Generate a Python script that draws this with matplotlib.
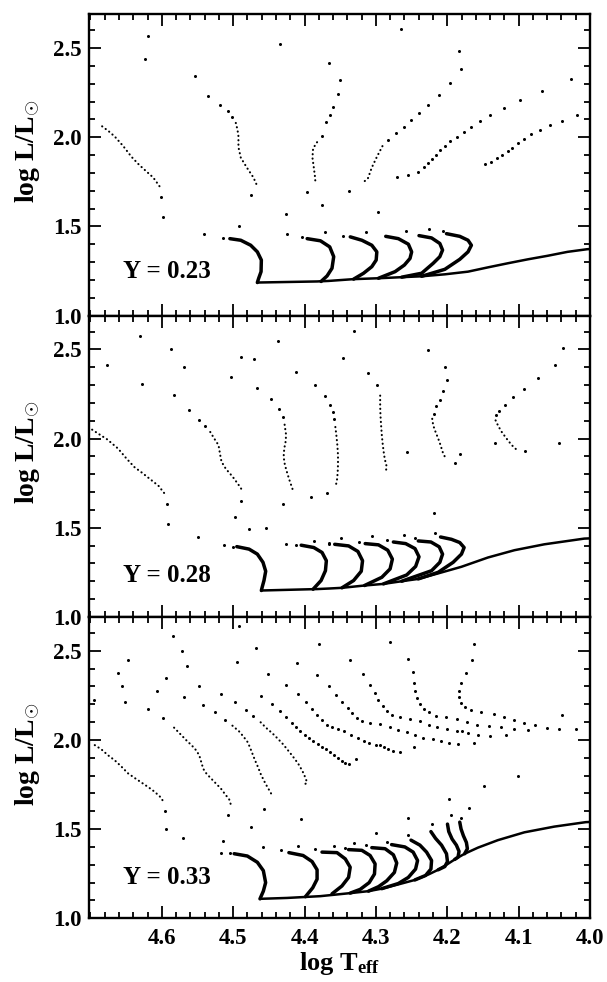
import matplotlib
matplotlib.use('Agg')
import matplotlib.pyplot as plt
from matplotlib.ticker import FixedLocator, MultipleLocator, FormatStrFormatter

plt.rcParams['font.family'] = 'Liberation Serif'
plt.rcParams['font.weight'] = 'bold'
plt.rcParams['mathtext.fontset'] = 'custom'
plt.rcParams['mathtext.rm'] = 'Liberation Serif:bold'
plt.rcParams['mathtext.it'] = 'Liberation Serif:italic:bold'
plt.rcParams['mathtext.bf'] = 'Liberation Serif:bold'

# ---------------- Y = 0.23 ----------------
zams_23 = [(4.4661, 1.185), (4.3824, 1.191), (4.3661, 1.194), (4.3312, 1.204), (4.2964, 1.209),
           (4.2638, 1.215), (4.2359, 1.220), (4.2034, 1.231), (4.1709, 1.246), (4.1430, 1.270),
           (4.1151, 1.293), (4.0872, 1.315), (4.0593, 1.335), (4.0315, 1.357), (4.0036, 1.372),
           (3.99, 1.374)]
hooks_23 = [
    [(4.5046, 1.431), (4.4893, 1.422), (4.4754, 1.394), (4.4661, 1.357), (4.4605, 1.311), (4.4609, 1.246), (4.4642, 1.209), (4.4661, 1.185)],
    [(4.3963, 1.431), (4.3777, 1.419), (4.3647, 1.385), (4.3591, 1.330), (4.3615, 1.265), (4.3684, 1.222), (4.3768, 1.191)],
    [(4.3359, 1.441), (4.3196, 1.422), (4.3057, 1.394), (4.2987, 1.357), (4.2996, 1.311), (4.3057, 1.274), (4.3173, 1.237), (4.3312, 1.204)],
    [(4.2862, 1.444), (4.2685, 1.431), (4.2545, 1.400), (4.2499, 1.357), (4.2522, 1.320), (4.2601, 1.283), (4.2731, 1.246), (4.2964, 1.209)],
    [(4.2396, 1.448), (4.2220, 1.435), (4.2104, 1.404), (4.2066, 1.367), (4.2104, 1.330), (4.2197, 1.293), (4.2359, 1.237), (4.2638, 1.215)],
    [(4.2011, 1.459), (4.1825, 1.444), (4.1709, 1.422), (4.1662, 1.394), (4.1709, 1.357), (4.1825, 1.315), (4.2034, 1.259), (4.2359, 1.220)],
]
dense_23 = [
    [(4.6836, 2.061), (4.6743, 2.033), (4.6660, 2.004), (4.6540, 1.950), (4.6427, 1.891), (4.6320, 1.846), (4.6213, 1.807), (4.6120, 1.774), (4.6027, 1.722)],
    [(4.4963, 2.080), (4.4940, 2.043), (4.4926, 2.006), (4.4926, 1.944), (4.4893, 1.885), (4.4809, 1.830), (4.4716, 1.774), (4.4670, 1.733)],
    [(4.3824, 1.972), (4.3880, 1.937), (4.3889, 1.885), (4.3870, 1.830), (4.3852, 1.774), (4.3847, 1.743)],
    [(4.2908, 1.950), (4.2987, 1.889), (4.3057, 1.830), (4.3112, 1.769), (4.3168, 1.750)],
]
dots_23 = [
    (4.6013, 1.667), (4.5986, 1.550),
    (4.5535, 2.343), (4.5349, 2.230), (4.5191, 2.181), (4.5079, 2.146), (4.5019, 2.111),
    (4.4754, 1.676), (4.4912, 1.502), (4.5414, 1.459), (4.5149, 1.437),
    (4.6195, 2.567), (4.6237, 2.437), (4.4340, 2.524),
    (4.3661, 2.417), (4.3503, 2.322), (4.3526, 2.243), (4.3596, 2.172), (4.3647, 2.122), (4.3703, 2.085), (4.3749, 2.009),
    (4.3963, 1.694), (4.3749, 1.619), (4.4256, 1.567), (4.4251, 1.456), (4.4033, 1.441), (4.3717, 1.470), (4.3373, 1.700), (4.3457, 1.448),
    (4.2648, 2.604), (4.1839, 2.481), (4.2964, 1.580), (4.3140, 1.469), (4.2578, 1.472), (4.2253, 1.487), (4.2057, 1.472),
    (4.1811, 2.381), (4.1964, 2.302), (4.2118, 2.237), (4.2266, 2.181), (4.2396, 2.135), (4.2508, 2.094), (4.2601, 2.057), (4.2722, 2.022), (4.2834, 1.987),
    (4.0267, 2.324), (4.0672, 2.259), (4.0974, 2.209), (4.1206, 2.163), (4.1397, 2.124), (4.1541, 2.089), (4.1662, 2.057), (4.1769, 2.030),
    (4.1857, 2.000), (4.1955, 1.978), (4.2034, 1.950), (4.2104, 1.926), (4.2164, 1.900), (4.2220, 1.880), (4.2276, 1.857), (4.2327, 1.833),
    (4.2406, 1.807), (4.2545, 1.787), (4.2699, 1.774),
    (4.0184, 2.122), (4.0398, 2.093), (4.0560, 2.067), (4.0700, 2.043), (4.0825, 2.019), (4.0927, 1.991), (4.1011, 1.969), (4.1090, 1.941),
    (4.1151, 1.922), (4.1234, 1.900), (4.1308, 1.885), (4.1383, 1.863), (4.1467, 1.852),
]

# ---------------- Y = 0.28 ----------------
zams_28 = [(4.4605, 1.148), (4.3824, 1.156), (4.3661, 1.159), (4.3475, 1.163), (4.3159, 1.176),
           (4.2894, 1.185), (4.2638, 1.200), (4.2406, 1.213), (4.2127, 1.244), (4.1801, 1.281),
           (4.1430, 1.333), (4.1058, 1.374), (4.0640, 1.407), (4.0081, 1.439), (3.99, 1.442)]
hooks_28 = [
    [(4.4949, 1.394), (4.4777, 1.380), (4.4661, 1.352), (4.4582, 1.306), (4.4544, 1.256), (4.4568, 1.204), (4.4591, 1.170), (4.4605, 1.148)],
    [(4.4047, 1.402), (4.3870, 1.389), (4.3754, 1.361), (4.3694, 1.315), (4.3707, 1.259), (4.3768, 1.204), (4.3880, 1.155)],
    [(4.3577, 1.407), (4.3382, 1.398), (4.3252, 1.367), (4.3187, 1.315), (4.3205, 1.256), (4.3312, 1.204), (4.3475, 1.163)],
    [(4.3150, 1.411), (4.2964, 1.404), (4.2834, 1.374), (4.2769, 1.324), (4.2801, 1.269), (4.2917, 1.222), (4.3159, 1.176)],
    [(4.2755, 1.420), (4.2583, 1.411), (4.2452, 1.383), (4.2396, 1.337), (4.2443, 1.283), (4.2569, 1.235), (4.2894, 1.185)],
    [(4.2406, 1.426), (4.2229, 1.420), (4.2113, 1.393), (4.2066, 1.352), (4.2104, 1.306), (4.2220, 1.259), (4.2638, 1.200)],
    [(4.2094, 1.448), (4.1941, 1.435), (4.1825, 1.417), (4.1764, 1.389), (4.1801, 1.352), (4.1918, 1.306), (4.2127, 1.250), (4.2406, 1.213)],
]
dense_28 = [
    [(4.6976, 2.050), (4.6869, 2.022), (4.6767, 1.996), (4.6613, 1.944), (4.6497, 1.889), (4.6381, 1.839), (4.6279, 1.809), (4.6162, 1.772), (4.6046, 1.735), (4.5948, 1.685)],
    [(4.5321, 2.037), (4.5265, 2.000), (4.5205, 1.963), (4.5181, 1.907), (4.5163, 1.870), (4.5102, 1.830), (4.5009, 1.787), (4.4930, 1.744), (4.4856, 1.700)],
    [(4.4279, 2.078), (4.4261, 2.028), (4.4261, 1.991), (4.4284, 1.944), (4.4293, 1.898), (4.4275, 1.852), (4.4242, 1.806), (4.4205, 1.759), (4.4172, 1.722), (4.4159, 1.704)],
    [(4.3568, 2.065), (4.3554, 2.019), (4.3540, 1.963), (4.3531, 1.907), (4.3531, 1.852), (4.3536, 1.806), (4.3545, 1.769), (4.3559, 1.741), (4.3568, 1.726)],
    [(4.2940, 2.241), (4.2940, 2.185), (4.2936, 2.130), (4.2927, 2.074), (4.2917, 2.019), (4.2903, 1.963), (4.2885, 1.907), (4.2862, 1.861), (4.2848, 1.843), (4.2857, 1.824)],
    [(4.2211, 2.111), (4.2197, 2.074), (4.2164, 2.037), (4.2127, 2.000), (4.2094, 1.963), (4.2066, 1.926), (4.2034, 1.898), (4.1997, 1.889)],
    [(4.1323, 2.102), (4.1290, 2.074), (4.1244, 2.041), (4.1197, 2.015), (4.1141, 1.985), (4.1081, 1.957), (4.1011, 1.931)],
]
dots_28 = [
    (4.5925, 1.633), (4.5916, 1.522), (4.5497, 1.448),
    (4.6302, 2.574), (4.6762, 2.413), (4.6274, 2.306), (4.5874, 2.504), (4.5683, 2.404), (4.5823, 2.244), (4.5614, 2.161), (4.5484, 2.106), (4.5395, 2.069),
    (4.4884, 1.652), (4.4977, 1.561), (4.4777, 1.491), (4.4535, 1.500), (4.5126, 1.402), (4.5000, 1.394),
    (4.5033, 2.348), (4.4712, 2.448), (4.4884, 2.456), (4.4670, 2.285), (4.4470, 2.222), (4.4363, 2.167), (4.4303, 2.120), (4.4298, 1.635),
    (4.4368, 2.546), (4.4126, 2.374), (4.3847, 2.302), (4.3707, 2.241), (4.3638, 2.189), (4.3600, 2.148), (4.3582, 2.111), (4.3684, 1.694), (4.3908, 1.672), (4.3457, 2.450),
    (4.3312, 2.602), (4.3117, 2.367), (4.2987, 2.300), (4.2559, 1.926),
    (4.2276, 2.494), (4.2025, 2.402), (4.2006, 2.328), (4.2053, 2.269), (4.2108, 2.219), (4.2159, 2.180), (4.2192, 2.139), (4.1825, 1.911), (4.1890, 1.863),
    (4.0372, 2.506), (4.0491, 2.411), (4.0723, 2.339), (4.0927, 2.278), (4.1081, 2.233), (4.1197, 2.191), (4.1271, 2.157), (4.1313, 2.130),
    (4.0904, 1.933), (4.1337, 1.976), (4.0441, 1.974),
    (4.2183, 1.583), (4.2174, 1.469), (4.3661, 1.411), (4.3489, 1.444), (4.3243, 1.422), (4.3057, 1.452), (4.2838, 1.431), (4.2606, 1.459), (4.2452, 1.441),
    (4.4256, 1.411), (4.4117, 1.404), (4.3870, 1.426), (4.3652, 1.415),
]

# ---------------- Y = 0.33 ----------------
zams_33 = [(4.4624, 1.109), (4.4243, 1.114), (4.3778, 1.124), (4.3360, 1.141), (4.3104, 1.152),
           (4.2918, 1.166), (4.2685, 1.190), (4.2453, 1.215), (4.2267, 1.245), (4.2127, 1.272),
           (4.2011, 1.300), (4.1895, 1.330), (4.1756, 1.362), (4.1570, 1.396), (4.1291, 1.438),
           (4.0919, 1.482), (4.0500, 1.514), (4.0059, 1.539), (3.99, 1.542)]
hooks_33 = [
    [(4.4986, 1.362), (4.4801, 1.349), (4.4661, 1.314), (4.4577, 1.267), (4.4545, 1.200), (4.4577, 1.152), (4.4624, 1.109)],
    [(4.4219, 1.368), (4.4020, 1.352), (4.3894, 1.318), (4.3824, 1.272), (4.3824, 1.219), (4.3885, 1.171), (4.3987, 1.121)],
    [(4.3755, 1.371), (4.3545, 1.368), (4.3429, 1.333), (4.3360, 1.286), (4.3383, 1.229), (4.3476, 1.181), (4.3615, 1.137)],
    [(4.3383, 1.385), (4.3197, 1.381), (4.3081, 1.352), (4.3011, 1.305), (4.3020, 1.248), (4.3094, 1.200), (4.3220, 1.162), (4.3360, 1.141)],
    [(4.3057, 1.396), (4.2871, 1.390), (4.2755, 1.356), (4.2708, 1.310), (4.2741, 1.257), (4.2848, 1.210), (4.2964, 1.177), (4.3104, 1.152)],
    [(4.2780, 1.413), (4.2594, 1.400), (4.2478, 1.371), (4.2416, 1.324), (4.2444, 1.276), (4.2546, 1.229), (4.2685, 1.195), (4.2918, 1.166)],
    [(4.2508, 1.438), (4.2383, 1.410), (4.2290, 1.371), (4.2220, 1.324), (4.2229, 1.276), (4.2304, 1.240), (4.2453, 1.215)],
    [(4.2229, 1.486), (4.2164, 1.448), (4.2080, 1.410), (4.2011, 1.362), (4.1997, 1.318), (4.2034, 1.290), (4.2127, 1.272)],
    [(4.1997, 1.528), (4.1979, 1.486), (4.1932, 1.444), (4.1872, 1.410), (4.1835, 1.375), (4.1849, 1.343), (4.1895, 1.330)],
    [(4.1825, 1.539), (4.1807, 1.501), (4.1774, 1.463), (4.1732, 1.425), (4.1718, 1.390), (4.1756, 1.362)],
]
dense_33 = [
    [(4.6939, 1.971), (4.6846, 1.947), (4.6753, 1.914), (4.6660, 1.886), (4.6567, 1.851), (4.6474, 1.813), (4.6381, 1.787), (4.6288, 1.762), (4.6195, 1.737), (4.6102, 1.710), (4.6009, 1.676), (4.5963, 1.642)],
    [(4.5828, 2.069), (4.5726, 2.027), (4.5651, 1.996), (4.5577, 1.968), (4.5521, 1.943), (4.5475, 1.914), (4.5447, 1.876), (4.5419, 1.838), (4.5372, 1.810), (4.5312, 1.785), (4.5242, 1.756), (4.5173, 1.728), (4.5112, 1.695), (4.5056, 1.667), (4.5033, 1.638)],
    [(4.5010, 2.080), (4.4917, 2.048), (4.4856, 2.019), (4.4801, 1.990), (4.4768, 1.962), (4.4731, 1.924), (4.4694, 1.886), (4.4652, 1.848), (4.4615, 1.810), (4.4568, 1.771), (4.4522, 1.737), (4.4475, 1.705), (4.4452, 1.686)],
    [(4.4615, 2.099), (4.4536, 2.067), (4.4452, 2.038), (4.4382, 2.010), (4.4312, 1.981), (4.4252, 1.952), (4.4196, 1.924), (4.4140, 1.895), (4.4089, 1.867), (4.4047, 1.838), (4.4010, 1.810), (4.3982, 1.781), (4.3964, 1.762), (4.4001, 1.749)],
]
dots_33 = [
    (4.5954, 1.600), (4.5940, 1.499), (4.5698, 1.448), (4.6948, 2.225),
    (4.6195, 2.173), (4.5981, 2.122),
    (4.5079, 1.581), (4.5149, 1.436), (4.4745, 1.509), (4.5173, 1.368), (4.5042, 1.364), (4.4577, 1.400), (4.4326, 1.381),
    (4.4089, 1.404), (4.3848, 1.387), (4.3583, 1.404), (4.3313, 1.423), (4.4047, 1.558), (4.4568, 1.610),
    (4.5256, 2.156), (4.5121, 2.114), (4.4819, 2.168), (4.4722, 2.133),
    (4.5847, 2.585), (4.5716, 2.499), (4.5647, 2.413), (4.6470, 2.446), (4.6609, 2.373), (4.5944, 2.349), (4.6562, 2.305),
    (4.6065, 2.276), (4.6516, 2.211), (4.5684, 2.238), (4.5484, 2.305), (4.5428, 2.198), (4.5177, 2.257), (4.4949, 2.438),
    (4.4684, 2.518), (4.4975, 2.210), (4.4917, 2.638), (4.3792, 2.537),
    (4.1012, 1.796), (4.1486, 1.741), (4.1979, 1.670), (4.1700, 1.619), (4.1941, 1.581), (4.1811, 1.562), (4.2555, 1.564),
    (4.2220, 1.528), (4.2550, 1.467), (4.2848, 1.427), (4.2997, 1.476), (4.3138, 1.410), (4.3429, 1.396),
    (4.3280, 1.895), (4.2462, 1.960), (4.1625, 1.985), (4.0398, 2.141),
    # track 5
    (4.4605, 2.248), (4.4461, 2.200), (4.4350, 2.162), (4.4266, 2.128), (4.4182, 2.095), (4.4113, 2.070), (4.4057, 2.048),
    (4.3996, 2.029), (4.3941, 2.010), (4.3880, 1.994), (4.3815, 1.975), (4.3755, 1.962), (4.3699, 1.947), (4.3638, 1.930),
    (4.3583, 1.914), (4.3531, 1.899), (4.3476, 1.880), (4.3429, 1.869), (4.3383, 1.867),
    # track 6
    (4.4508, 2.368), (4.4257, 2.309), (4.4094, 2.257), (4.3978, 2.210), (4.3894, 2.175), (4.3824, 2.139), (4.3755, 2.114),
    (4.3685, 2.086), (4.3615, 2.072), (4.3536, 2.061), (4.3443, 2.048), (4.3350, 2.029), (4.3257, 2.013), (4.3173, 1.996),
    (4.3094, 1.981), (4.3001, 1.971), (4.2941, 1.971), (4.2885, 1.960), (4.2825, 1.949), (4.2764, 1.937), (4.2662, 1.933),
    # track 7
    (4.4103, 2.434), (4.3820, 2.362), (4.3653, 2.305), (4.3555, 2.253), (4.3476, 2.213), (4.3397, 2.177), (4.3336, 2.149),
    (4.3266, 2.124), (4.3197, 2.105), (4.3081, 2.095), (4.2936, 2.088), (4.2806, 2.070), (4.2685, 2.057), (4.2569, 2.042),
    (4.2453, 2.029), (4.2337, 2.013), (4.2206, 2.004), (4.2090, 1.994), (4.1974, 1.985), (4.1849, 1.975),
    # track 8
    (4.3369, 2.446), (4.3178, 2.371), (4.3081, 2.310), (4.3011, 2.263), (4.2964, 2.225), (4.2904, 2.190), (4.2839, 2.162),
    (4.2769, 2.139), (4.2662, 2.128), (4.2523, 2.118), (4.2383, 2.105), (4.2253, 2.086), (4.2137, 2.070), (4.1997, 2.061),
    (4.1862, 2.048), (4.1793, 2.048), (4.1709, 2.038), (4.1570, 2.029), (4.1407, 2.023), (4.1174, 2.027),
    # track 9
    (4.2801, 2.550), (4.2550, 2.453), (4.2485, 2.381), (4.2467, 2.320), (4.2453, 2.276), (4.2430, 2.234), (4.2383, 2.204),
    (4.2327, 2.175), (4.2258, 2.156), (4.2160, 2.137), (4.2011, 2.128), (4.1862, 2.118), (4.1718, 2.101), (4.1579, 2.086),
    (4.1421, 2.076), (4.1244, 2.070), (4.1058, 2.063), (4.0872, 2.053),
    # track 10
    (4.1625, 2.539), (4.1653, 2.446), (4.1742, 2.375), (4.1811, 2.320), (4.1839, 2.276), (4.1839, 2.238), (4.1811, 2.208),
    (4.1756, 2.185), (4.1672, 2.166), (4.1523, 2.154), (4.1351, 2.143), (4.1207, 2.128), (4.1067, 2.110), (4.0919, 2.097),
    (4.0770, 2.082), (4.0607, 2.067), (4.0430, 2.063), (4.0198, 2.061),
]

labels = ['Y = 0.23', 'Y = 0.28', 'Y = 0.33']
label_y = [1.245, 1.231, 1.229]
x_major = [4.6, 4.5, 4.4, 4.3, 4.2, 4.1, 4.0]


def xy(points):
    return [p[0] for p in points], [p[1] for p in points]


fig = plt.figure(figsize=(6.07, 9.82), dpi=100)
left, width, height = 0.1466, 0.8254, 0.3069
bottoms = [0.6787, 0.3718, 0.0649]

panels = [
    (zams_23, hooks_23, dense_23, dots_23),
    (zams_28, hooks_28, dense_28, dots_28),
    (zams_33, hooks_33, dense_33, dots_33),
]

for i, (zams, hooks, dense, dots) in enumerate(panels):
    ax = fig.add_axes([left, bottoms[i], width, height])

    ax.plot(*xy(zams), color='black', lw=1.8, solid_capstyle='round')
    for h in hooks:
        ax.plot(*xy(h), color='black', lw=2.5, solid_capstyle='round')
    for d in dense:
        ax.plot(*xy(d), color='black', lw=1.5, linestyle=(0, (0.1, 2.0)),
                dash_capstyle='round')
    ax.plot(*xy(dots), 'o', color='black', ms=2.2, mew=0)

    ax.text(4.655, label_y[i], labels[i], fontsize=18, fontweight='bold',
            ha='left', va='center')

    ax.set_xlim(4.702, 4.0)
    ax.set_ylim(1.0, 2.69)
    ax.xaxis.set_major_locator(FixedLocator(x_major))
    ax.xaxis.set_minor_locator(MultipleLocator(0.02))
    ax.yaxis.set_major_locator(MultipleLocator(0.5))
    ax.yaxis.set_minor_locator(MultipleLocator(0.1))
    ax.xaxis.set_major_formatter(FormatStrFormatter('%.1f'))
    ax.yaxis.set_major_formatter(FormatStrFormatter('%.1f'))
    ax.tick_params(which='both', direction='in', top=True, right=True,
                   width=1.3, labelsize=16.5)
    ax.tick_params(which='major', length=8.5, pad=5)
    ax.tick_params(which='minor', length=4.5)
    ax.tick_params(axis='x', labelbottom=(i == 2), pad=7)
    for s in ax.spines.values():
        s.set_linewidth(1.7)

    ax.text(-0.122, 0.545, r'log L/L$_{\odot}$', rotation=90, transform=ax.transAxes,
            ha='center', va='center', fontsize=20, fontweight='bold')

    if i == 2:
        ax.set_xlabel(r'log T$_{\rm eff}$', fontsize=19, fontweight='bold', labelpad=1)

fig.savefig('out.png', dpi=100)
